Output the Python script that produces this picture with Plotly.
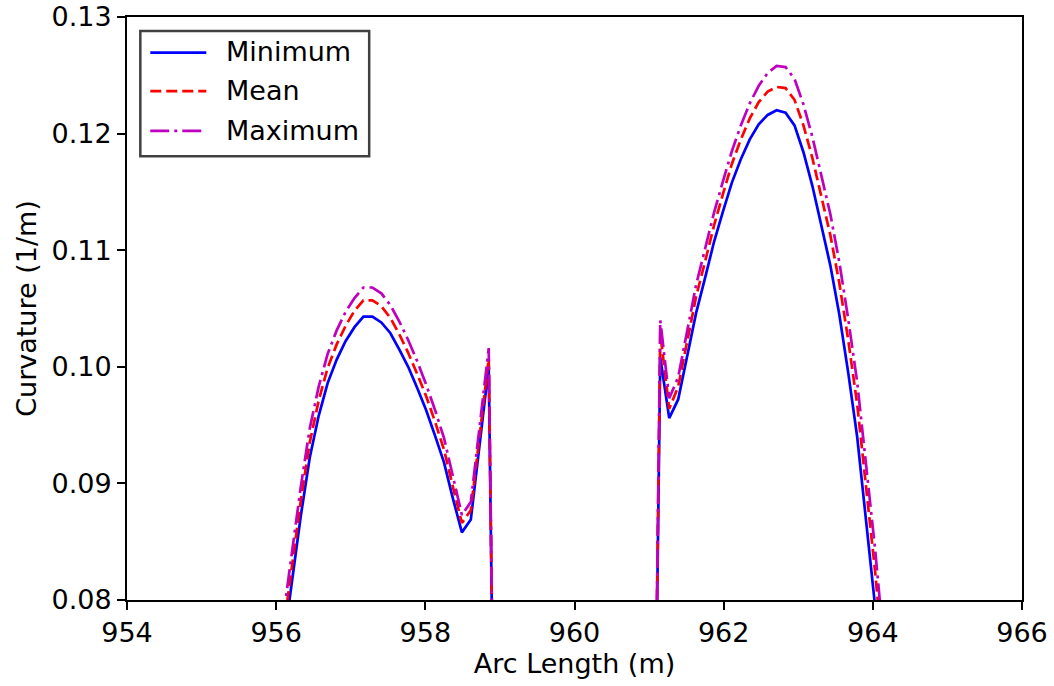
import plotly.graph_objects as go

# Arc length stations (m) for the two curved sections
arc_left = [956.09, 956.21, 956.33, 956.45, 956.57, 956.69, 956.81, 956.93, 957.05,
            957.17, 957.29, 957.41, 957.53, 957.65, 957.77, 957.89, 958.01, 958.13,
            958.25, 958.37, 958.49, 958.61, 958.73, 958.85, 958.97]
arc_right = [961.03, 961.15, 961.27, 961.39, 961.51, 961.63, 961.75, 961.87, 961.99,
             962.11, 962.23, 962.35, 962.47, 962.59, 962.71, 962.83, 962.95, 963.07,
             963.19, 963.31, 963.43, 963.55, 963.67, 963.79, 963.91, 964.03, 964.15]

# Curvature (1/m) per station
kappa_min_left = [0.0758, 0.0816, 0.0872, 0.0922, 0.0958, 0.0986, 0.1006, 0.1022, 0.1034,
                  0.1043, 0.1043, 0.1038, 0.1029, 0.1015, 0.1000, 0.0982, 0.0963, 0.0941,
                  0.0918, 0.0887, 0.0858, 0.0869, 0.0936, 0.1000, 0.0400]
kappa_mean_left = [0.0771, 0.0829, 0.0885, 0.0935, 0.0971, 0.0999, 0.1019, 0.1035, 0.1048,
                   0.1057, 0.1057, 0.1052, 0.1042, 0.1028, 0.1012, 0.0994, 0.0975, 0.0953,
                   0.0929, 0.0897, 0.0866, 0.0877, 0.0943, 0.1007, 0.0400]
kappa_max_left = [0.0783, 0.0841, 0.0897, 0.0947, 0.0983, 0.1011, 0.1031, 0.1047, 0.1059,
                  0.1068, 0.1068, 0.1063, 0.1053, 0.1039, 0.1023, 0.1005, 0.0985, 0.0963,
                  0.0939, 0.0906, 0.0873, 0.0884, 0.0951, 0.1016, 0.0400]

kappa_min_right = [0.0400, 0.1008, 0.0956, 0.0972, 0.1009, 0.1046, 0.1076, 0.1107, 0.1133,
                   0.1158, 0.1178, 0.1195, 0.1208, 0.1216, 0.1220, 0.1218, 0.1207, 0.1184,
                   0.1155, 0.1122, 0.1087, 0.1045, 0.0995, 0.0940, 0.0870, 0.0795, 0.0710]
kappa_mean_right = [0.0400, 0.1029, 0.0964, 0.0983, 0.1022, 0.1060, 0.1090, 0.1121, 0.1148,
                    0.1174, 0.1195, 0.1213, 0.1227, 0.1236, 0.1240, 0.1239, 0.1229, 0.1207,
                    0.1179, 0.1147, 0.1113, 0.1072, 0.1023, 0.0968, 0.0899, 0.0825, 0.0740]
kappa_max_right = [0.0400, 0.1040, 0.0973, 0.0991, 0.1031, 0.1070, 0.1101, 0.1132, 0.1159,
                   0.1185, 0.1207, 0.1226, 0.1241, 0.1252, 0.1258, 0.1257, 0.1247, 0.1225,
                   0.1197, 0.1165, 0.1131, 0.1090, 0.1041, 0.0987, 0.0918, 0.0844, 0.0760]

x_ticks = [954, 956, 958, 960, 962, 964, 966]
y_ticks = [0.08, 0.09, 0.10, 0.11, 0.12, 0.13]

series_names = ["Minimum", "Mean", "Maximum"]
series_colors = ["#0000ff", "#ff0000", "#bf00bf"]
series_dash = ["solid", "11px,5px", "19px,5px,3px,5px"]

arc = arc_left + arc_right
series_values = [kappa_min_left + kappa_min_right,
                 kappa_mean_left + kappa_mean_right,
                 kappa_max_left + kappa_max_right]

FONT = "DejaVu Sans, Arial, sans-serif"
FS = 27

fig = go.Figure()
for name, vals, col, dash in zip(series_names, series_values, series_colors, series_dash):
    fig.add_trace(go.Scatter(x=arc, y=vals, mode="lines", name=name, showlegend=False,
                             line=dict(color=col, width=2.7, dash=dash)))

# Framed legend in the upper-left corner
legend_rows_y = [0.939, 0.873, 0.8046]
shapes = [dict(type="rect", xref="paper", yref="paper", x0=0.0149, x1=0.2706,
               y0=0.7612, y1=0.976, line=dict(color="#404040", width=2.5),
               fillcolor="white", layer="above")]
annotations = []
for name, col, dash, yy in zip(series_names, series_colors, series_dash, legend_rows_y):
    shapes.append(dict(type="line", xref="paper", yref="paper", x0=0.026, x1=0.0886,
                       y0=yy, y1=yy, line=dict(color=col, width=2.7, dash=dash),
                       layer="above"))
    annotations.append(dict(xref="paper", yref="paper", x=0.108, y=yy + 0.001, text=name,
                            showarrow=False, xanchor="left", yanchor="middle",
                            font=dict(family=FONT, size=FS, color="black")))

axis_common = dict(showline=True, mirror=True, linecolor="black", linewidth=2,
                   ticks="outside", ticklen=8, tickwidth=2, tickcolor="black",
                   showgrid=False, zeroline=False, automargin=False,
                   tickfont=dict(family=FONT, size=FS, color="black"))

fig.update_layout(
    width=1054, height=686,
    margin=dict(l=127, r=32, t=17, b=86),
    paper_bgcolor="white", plot_bgcolor="white",
    shapes=shapes, annotations=annotations,
    xaxis=dict(range=[954, 966], tickvals=x_ticks, ticktext=[str(v) for v in x_ticks],
               title=dict(text="Arc Length (m)", standoff=6,
                          font=dict(family=FONT, size=FS, color="black")),
               **axis_common),
    yaxis=dict(range=[0.08, 0.13], tickvals=y_ticks, ticktext=[f"{v:.2f}" for v in y_ticks],
               title=dict(text="Curvature (1/m)", standoff=7,
                          font=dict(family=FONT, size=FS, color="black")),
               **axis_common),
)

fig.write_html("out.html")
